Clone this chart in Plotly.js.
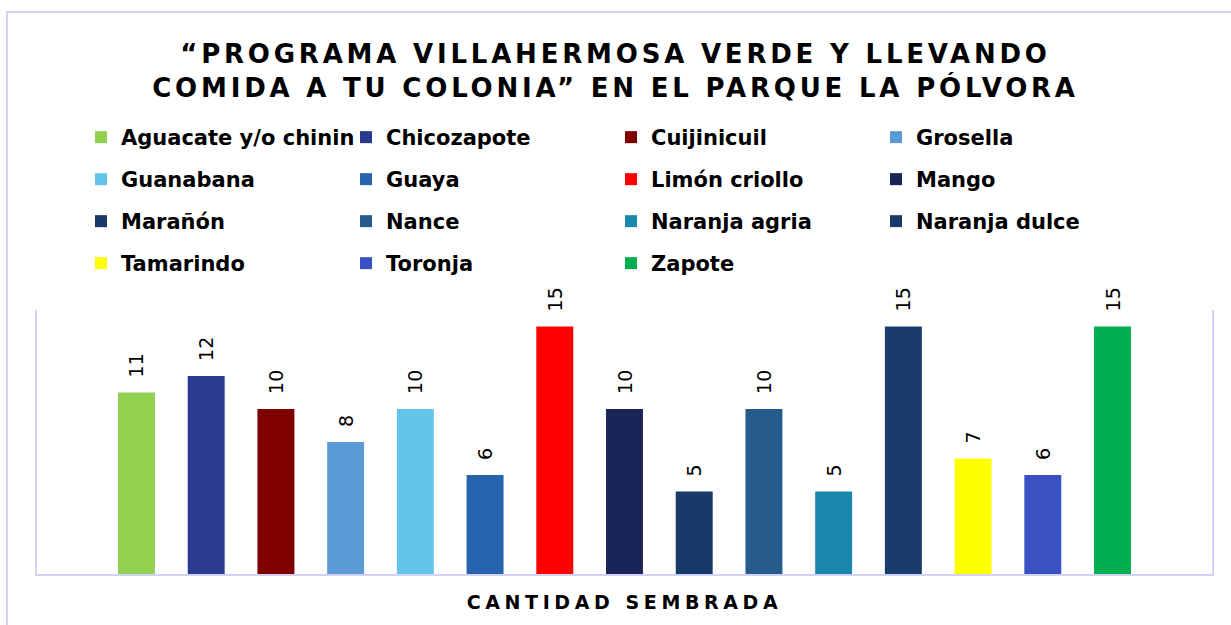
<!DOCTYPE html>
<html>
<head>
<meta charset="utf-8">
<script src="https://cdn.plot.ly/plotly-3.0.1.min.js"></script>
<style>
  html, body { margin: 0; padding: 0; background: #ffffff; }
  #wrap { position: relative; width: 1231px; height: 625px; overflow: hidden; }
  #chart { width: 1231px; height: 625px; }
  #frame { position: absolute; left: 6px; top: 11px; width: 1240px; height: 640px;
           border: 2px solid #d2d2f6; pointer-events: none; box-sizing: border-box; }
  .gtitle { letter-spacing: 3.8px; }
  .xtitle { letter-spacing: 4.6px; }
</style>
</head>
<body>
<div id="wrap">
  <div id="chart"></div>
  <div id="frame"></div>
</div>
<script>
const category = ["CANTIDAD SEMBRADA"];
const fruits = ["Aguacate y/o chinin", "Chicozapote", "Cuijinicuil", "Grosella",
  "Guanabana", "Guaya", "Limón criollo", "Mango",
  "Marañón", "Nance", "Naranja agria", "Naranja dulce",
  "Tamarindo", "Toronja", "Zapote"];
const values = [11, 12, 10, 8, 10, 6, 15, 10, 5, 10, 5, 15, 7, 6, 15];
const colors = ["#92d050", "#2a3a8e", "#800000", "#5b9bd5",
  "#62c4e8", "#2764ae", "#ff0000", "#1b2457",
  "#173a69", "#255c8c", "#1a87ad", "#183b69",
  "#ffff00", "#3a51c3", "#00ae4f"];

const legendIds = ["legend", "legend2", "legend3", "legend4"];

const traces = fruits.map((name, i) => ({
  type: "bar",
  name: name,
  x: category,
  y: [values[i]],
  marker: { color: colors[i] },
  texttemplate: "  %{y}",
  textposition: "outside",
  textangle: -90,
  cliponaxis: false,
  constraintext: "none",
  textfont: { family: "DejaVu Sans, Verdana, sans-serif", size: 19, color: "#000000" },
  legend: legendIds[Math.floor(i / 4)],
  hoverinfo: "name+y"
}));

function legendRow(topPx) {
  return {
    orientation: "h",
    xref: "container", yref: "container",
    x: 81 / 1231, xanchor: "left",
    y: 1 - topPx / 625, yanchor: "top",
    entrywidth: 220,
    entrywidthmode: "pixels",
    itemwidth: 30,
    font: { family: "DejaVu Sans, Verdana, sans-serif", size: 21, color: "#000000", weight: "bold" },
    bgcolor: "rgba(0,0,0,0)"
  };
}

const layout = {
  width: 1231,
  height: 625,
  paper_bgcolor: "#ffffff",
  plot_bgcolor: "#ffffff",
  margin: { l: 37, r: 19, t: 310, b: 51 },
  barmode: "group",
  bargap: 0.11,
  bargroupgap: 0.47,
  showlegend: true,
  title: {
    text: "“PROGRAMA VILLAHERMOSA VERDE Y LLEVANDO<br>COMIDA A TU COLONIA” EN EL PARQUE LA PÓLVORA",
    font: { family: "DejaVu Sans, Verdana, sans-serif", size: 26, color: "#000000", weight: "bold" },
    x: 0.5, xanchor: "center",
    xref: "container", yref: "container",
    y: 1 - 63 / 625, yanchor: "top"
  },
  legend: legendRow(117),
  legend2: legendRow(159),
  legend3: legendRow(201),
  legend4: legendRow(243),
  xaxis: {
    type: "category",
    showticklabels: false,
    ticks: "",
    showgrid: false,
    zeroline: false,
    showline: true,
    linecolor: "#d2d2f6",
    linewidth: 2,
    title: {
      text: "CANTIDAD SEMBRADA",
      font: { family: "DejaVu Sans, Verdana, sans-serif", size: 19, color: "#000000", weight: "bold" },
      standoff: 21
    }
  },
  yaxis: {
    range: [0, 16],
    showticklabels: false,
    ticks: "",
    showgrid: false,
    zeroline: false,
    showline: true,
    mirror: true,
    linecolor: "#d2d2f6",
    linewidth: 2
  }
};

Plotly.newPlot("chart", traces, layout, { displayModeBar: false, staticPlot: true });
</script>
</body>
</html>
